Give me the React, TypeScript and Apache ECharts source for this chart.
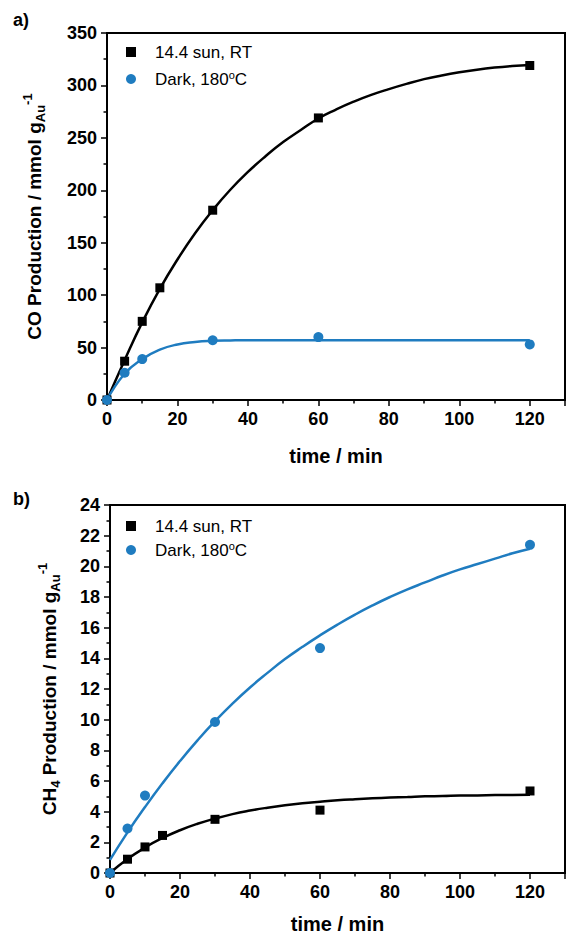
import React, { useEffect, useRef } from "react";
import * as echarts from "echarts";

const SUN = "14.4 sun, RT";
const DARK = "Dark, 180ºC";

// Panel a) CO production (measured points)
const coTime = [0, 5, 10, 15, 30, 60, 120];
const coSun = [0, 37, 75, 107, 181, 269, 319];
const coDarkTime = [0, 5, 10, 30, 60, 120];
const coDark = [0, 26, 39, 57, 60, 53];

// Fitted curves, every 5 min
const fitT = [0, 5, 10, 15, 20, 25, 30, 35, 40, 45, 50, 55, 60, 65, 70, 75, 80, 85, 90, 95, 100, 105, 110, 115, 120];
const coSunFit = [0, 38, 74, 106, 134, 159, 181, 200.5, 217.5, 232.5, 246, 257.5, 268.5, 277, 284.5, 291, 296.5, 301.5, 306, 309.5, 312.5, 315, 317, 318.5, 319.5];
const coDarkFit = [0, 25, 39, 48, 53, 55.3, 56.4, 56.8, 57, 57, 57, 57, 57, 57, 57, 57, 57, 57, 57, 57, 57, 57, 57, 57, 57];

// Panel b) CH4 production (measured points)
const chTime = [0, 5, 10, 15, 30, 60, 120];
const chSun = [0, 0.9, 1.7, 2.45, 3.5, 4.1, 5.35];
const chDarkTime = [0, 5, 10, 30, 60, 120];
const chDark = [0, 2.9, 5.05, 9.85, 14.67, 21.4];
const chSunFit = [0, 0.91, 1.66, 2.28, 2.79, 3.21, 3.55, 3.84, 4.07, 4.26, 4.42, 4.55, 4.65, 4.74, 4.81, 4.87, 4.92, 4.96, 5.0, 5.02, 5.05, 5.06, 5.08, 5.09, 5.1];
const chDarkFit = [0.85, 2.65, 4.3, 5.85, 7.3, 8.65, 9.9, 11.05, 12.1, 13.05, 13.95, 14.75, 15.5, 16.2, 16.85, 17.45, 18.0, 18.5, 18.95, 19.4, 19.8, 20.15, 20.5, 20.85, 21.15];

const xTicks = { min: 0, max: 130, interval: 20 };
const coTicks = { min: 0, max: 350, interval: 50 };
const chTicks = { min: 0, max: 24, interval: 2 };

const BLUE = "#1f7cc0";
const FONT = "Liberation Sans";

const zip = (a: number[], b: number[]) => a.map((v, i) => [v, b[i]]);

export default function App() {
  const ref = useRef<HTMLDivElement>(null);
  useEffect(() => {
    if (!ref.current) return;
    const chart = echarts.init(ref.current, null, { renderer: "svg" });

    const xAxisBase = (gridIndex: number, gap: number) => ({
      type: "value",
      gridIndex,
      ...xTicks,
      name: "time / min",
      nameLocation: "middle",
      nameGap: gap,
      nameTextStyle: { fontFamily: FONT, fontWeight: "bold", fontSize: 20, color: "#000" },
      axisLine: { show: true, onZero: false, lineStyle: { color: "#000", width: 2 } },
      axisTick: { show: true, inside: false, length: 6, lineStyle: { color: "#000", width: 1.5 } },
      minorTick: { show: true, splitNumber: 2, length: 3.5, lineStyle: { color: "#000", width: 1.5 } },
      axisLabel: { showMaxLabel: false, margin: 10, fontFamily: FONT, fontWeight: "bold", fontSize: 18, color: "#000" },
      splitLine: { show: false },
    });

    const yAxisBase = (gridIndex: number, ticks: any, name: string, gap: number) => ({
      type: "value",
      gridIndex,
      ...ticks,
      name,
      nameLocation: "middle",
      nameRotate: 90,
      nameGap: gap,
      nameTextStyle: {
        fontFamily: FONT,
        fontWeight: "bold",
        fontSize: 19,
        lineHeight: 26,
        color: "#000",
        rich: {
          sub: { fontFamily: FONT, fontWeight: "bold", fontSize: 13, lineHeight: 13, color: "#000", verticalAlign: "bottom" },
          sup: { fontFamily: FONT, fontWeight: "bold", fontSize: 13, lineHeight: 13, color: "#000", verticalAlign: "top" },
        },
      },
      axisLine: { show: true, onZero: false, lineStyle: { color: "#000", width: 2 } },
      axisTick: { show: true, inside: false, length: 6, lineStyle: { color: "#000", width: 1.5 } },
      minorTick: { show: true, splitNumber: 2, length: 3.5, lineStyle: { color: "#000", width: 1.5 } },
      axisLabel: { margin: 10, fontFamily: FONT, fontWeight: "bold", fontSize: 18, color: "#000" },
      splitLine: { show: false },
    });

    const legendBase = (top: number, gap: number) => ({
      orient: "vertical",
      left: 121,
      top,
      itemGap: gap,
      itemWidth: 10,
      itemHeight: 10,
      data: [
        { name: SUN, icon: "rect" },
        { name: DARK, icon: "circle" },
      ],
      formatter: (n: string) => (n === DARK ? "Dark, 180{sup|o}C" : n),
      textStyle: {
        fontFamily: FONT,
        fontSize: 17,
        lineHeight: 20,
        color: "#000",
        padding: [0, 0, 0, 14],
        rich: {
          sup: { fontFamily: FONT, fontSize: 11, lineHeight: 11, color: "#000", verticalAlign: "top" },
        },
      },
    });

    const scatter = (name: string, xi: number, data: number[][], symbol: string, color: string, z: number) => ({
      type: "scatter",
      name,
      xAxisIndex: xi,
      yAxisIndex: xi,
      data,
      symbol,
      symbolSize: symbol === "rect" ? 9 : 10,
      itemStyle: { color, opacity: 1 },
      clip: false,
      z,
    });

    const fit = (name: string, xi: number, data: number[][], color: string, z: number) => ({
      type: "line",
      name,
      xAxisIndex: xi,
      yAxisIndex: xi,
      data,
      smooth: true,
      showSymbol: false,
      symbol: "none",
      lineStyle: { color, width: 2.5 },
      itemStyle: { color },
      clip: true,
      z,
    });

    chart.setOption({
      animation: false,
      backgroundColor: "#fff",
      title: [
        { text: "a)", left: 8, top: 6, textStyle: { fontFamily: FONT, fontWeight: "bold", fontSize: 18, color: "#000" } },
        { text: "b)", left: 8, top: 485, textStyle: { fontFamily: FONT, fontWeight: "bold", fontSize: 18, color: "#000" } },
      ],
      grid: [
        { left: 107, right: 1, top: 33, height: 367, show: true, borderColor: "#000", borderWidth: 2, backgroundColor: "transparent" },
        { left: 110, right: 1, top: 505, height: 368, show: true, borderColor: "#000", borderWidth: 2, backgroundColor: "transparent" },
      ],
      legend: [legendBase(37, 7), legendBase(511, 4)],
      xAxis: [xAxisBase(0, 46), xAxisBase(1, 41)],
      yAxis: [
        yAxisBase(0, coTicks, "CO Production / mmol g{sub|Au}{sup|-1}", 60),
        yAxisBase(1, chTicks, "CH{sub|4} Production / mmol g{sub|Au}{sup|-1}", 48),
      ],
      series: [
        fit("fitSunA", 0, zip(fitT, coSunFit), "#000", 2),
        fit("fitDarkA", 0, zip(fitT, coDarkFit), BLUE, 2),
        scatter(SUN, 0, zip(coTime, coSun), "rect", "#000", 3),
        scatter(DARK, 0, zip(coDarkTime, coDark), "circle", BLUE, 4),
        fit("fitSunB", 1, zip(fitT, chSunFit), "#000", 2),
        fit("fitDarkB", 1, zip(fitT, chDarkFit), BLUE, 2),
        scatter(SUN, 1, zip(chTime, chSun), "rect", "#000", 3),
        scatter(DARK, 1, zip(chDarkTime, chDark), "circle", BLUE, 4),
      ],
    });
    return () => chart.dispose();
  }, []);
  return (
    <div
      ref={ref}
      style={{ position: "absolute", left: 0, top: 0, width: 566, height: 937 }}
    />
  );
}
